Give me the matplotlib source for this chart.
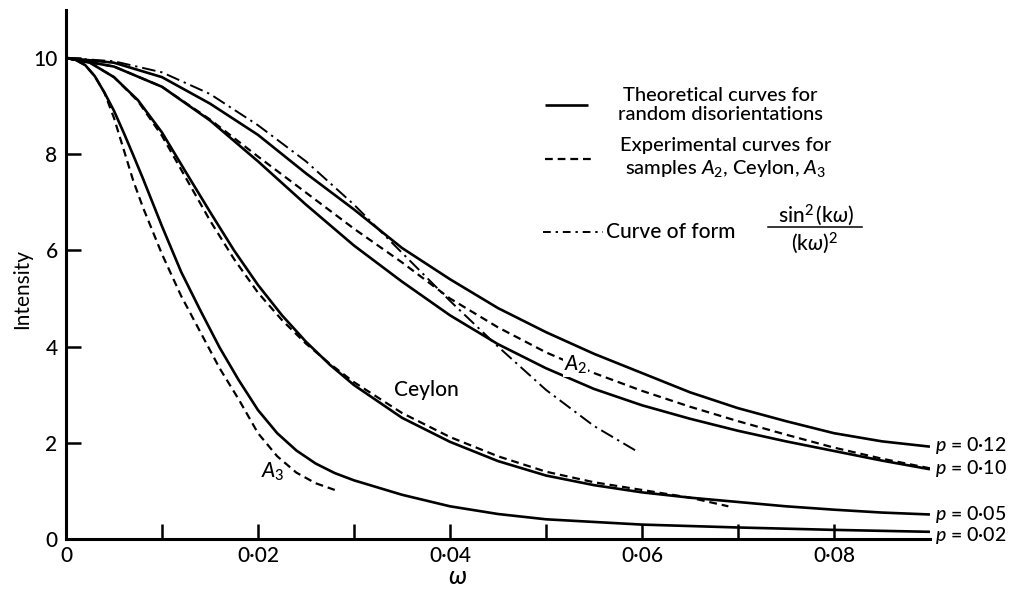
import matplotlib
matplotlib.use("Agg")
import matplotlib.pyplot as plt
from matplotlib.lines import Line2D

plt.rcParams['font.family'] = ['Lato', 'DejaVu Sans']
plt.rcParams['font.weight'] = 'medium'
plt.rcParams['mathtext.fontset'] = 'custom'
plt.rcParams['mathtext.rm'] = 'Lato:medium'
plt.rcParams['mathtext.it'] = 'Lato:italic:medium'
plt.rcParams['mathtext.bf'] = 'Lato:bold'

# theoretical curves (random disorientations)
x_p12 = [0, 0.005, 0.01, 0.015, 0.02, 0.025, 0.03, 0.035, 0.04, 0.045, 0.05,
         0.055, 0.06, 0.065, 0.07, 0.075, 0.08, 0.085, 0.09]
y_p12 = [10, 9.9, 9.6, 9.05, 8.4, 7.6, 6.85, 6.05, 5.4, 4.8, 4.3,
         3.85, 3.45, 3.05, 2.72, 2.45, 2.2, 2.03, 1.92]

x_p10 = [0, 0.005, 0.01, 0.015, 0.02, 0.025, 0.03, 0.035, 0.04, 0.045, 0.05,
         0.055, 0.06, 0.065, 0.07, 0.075, 0.08, 0.085, 0.09]
y_p10 = [10, 9.82, 9.4, 8.7, 7.85, 6.95, 6.1, 5.35, 4.65, 4.05, 3.55,
         3.12, 2.78, 2.5, 2.25, 2.03, 1.83, 1.63, 1.45]

x_p05 = [0, 0.0025, 0.005, 0.0075, 0.01, 0.0125, 0.015, 0.0175, 0.02, 0.0225,
         0.025, 0.0275, 0.03, 0.035, 0.04, 0.045, 0.05, 0.055, 0.06, 0.065,
         0.07, 0.075, 0.08, 0.085, 0.09]
y_p05 = [10, 9.9, 9.6, 9.12, 8.45, 7.62, 6.8, 6.0, 5.28, 4.65,
         4.1, 3.62, 3.2, 2.52, 2.02, 1.62, 1.32, 1.12, 0.97, 0.86,
         0.77, 0.68, 0.61, 0.55, 0.51]

x_p02 = [0, 0.001, 0.002, 0.003, 0.004, 0.005, 0.006, 0.007, 0.008, 0.01,
         0.012, 0.014, 0.016, 0.018, 0.02, 0.022, 0.024, 0.026, 0.028, 0.03,
         0.035, 0.04, 0.045, 0.05, 0.06, 0.07, 0.08, 0.09]
y_p02 = [10, 9.96, 9.85, 9.62, 9.28, 8.9, 8.45, 7.98, 7.5, 6.5,
         5.55, 4.75, 3.98, 3.3, 2.68, 2.2, 1.84, 1.57, 1.37, 1.22,
         0.92, 0.68, 0.52, 0.41, 0.3, 0.24, 0.19, 0.15]

# experimental curves
x_a2 = [0, 0.005, 0.01, 0.015, 0.02, 0.025, 0.03, 0.035, 0.04, 0.045, 0.05,
        0.055, 0.06, 0.065, 0.07, 0.075, 0.08, 0.085, 0.09]
y_a2 = [10, 9.82, 9.4, 8.72, 7.95, 7.2, 6.45, 5.75, 5.0, 4.4, 3.88,
        3.45, 3.08, 2.75, 2.45, 2.17, 1.9, 1.67, 1.47]

x_ceylon = [0, 0.0025, 0.005, 0.0075, 0.01, 0.0125, 0.015, 0.0175, 0.02, 0.0225,
            0.025, 0.0275, 0.03, 0.035, 0.04, 0.045, 0.05, 0.055, 0.06, 0.065,
            0.069]
y_ceylon = [10, 9.9, 9.6, 9.1, 8.38, 7.5, 6.62, 5.82, 5.12, 4.55,
            4.06, 3.64, 3.26, 2.62, 2.12, 1.72, 1.4, 1.18, 1.02, 0.86,
            0.68]

x_a3 = [0, 0.001, 0.002, 0.003, 0.004, 0.005, 0.006, 0.007, 0.008, 0.01,
        0.012, 0.014, 0.016, 0.018, 0.02, 0.022, 0.024, 0.026, 0.028]
y_a3 = [10, 9.96, 9.85, 9.62, 9.28, 8.75, 8.1, 7.45, 6.9, 5.92,
        5.05, 4.3, 3.55, 2.9, 2.2, 1.72, 1.38, 1.16, 1.02]

# sin^2(kw)/(kw)^2 curve
x_sinc = [0, 0.005, 0.01, 0.015, 0.02, 0.025, 0.03, 0.035, 0.04, 0.045, 0.05,
          0.055, 0.0595]
y_sinc = [10, 9.93, 9.7, 9.25, 8.6, 7.85, 6.95, 5.95, 4.95, 4.0, 3.1,
          2.35, 1.82]

p_labels = ['0·12', '0·10', '0·05', '0·02']
p_label_y = [1.94, 1.46, 0.52, 0.08]

fig = plt.figure(figsize=(10.14, 5.9), dpi=100)
ax = fig.add_axes([0.0651, 0.0864, 0.852, 0.897])

solid = dict(color='black', lw=1.9, solid_capstyle='butt')
dashed = dict(color='black', lw=1.6, dashes=(3.5, 2.2))
ax.plot(x_p12, y_p12, **solid)
ax.plot(x_p10, y_p10, **solid)
ax.plot(x_p05, y_p05, **solid)
ax.plot(x_p02, y_p02, **solid)
ax.plot(x_a2, y_a2, **dashed)
ax.plot(x_ceylon, y_ceylon, **dashed)
ax.plot(x_a3, y_a3, **dashed)
ax.plot(x_sinc, y_sinc, color='black', lw=1.4, dashes=(7, 2.5, 1.2, 2.5))

ax.set_xlim(0, 0.09)
ax.set_ylim(0, 11)
for s in ['top', 'right']:
    ax.spines[s].set_visible(False)
for s in ['left', 'bottom']:
    ax.spines[s].set_linewidth(2.2)

ax.set_xticks([0, 0.02, 0.04, 0.06, 0.08])
ax.set_xticklabels(['0', '0·02', '0·04', '0·06', '0·08'])
ax.set_xticks([0.01, 0.03, 0.05, 0.07], minor=True)
ax.set_yticks([0, 2, 4, 6, 8, 10])
ax.set_yticklabels(['0', '2', '4', '6', '8', '10'])
ax.tick_params(axis='both', which='both', direction='in', length=11,
               width=1.8, labelsize=15, color='black')
ax.tick_params(axis='x', pad=5)
ax.tick_params(axis='y', pad=6)

ax.set_ylabel('Intensity', fontsize=15)
ax.yaxis.set_label_coords(-0.039, 0.473)
ax.set_xlabel(r'$\omega$', fontsize=18, va='center')
ax.xaxis.set_label_coords(0.453, -0.07)

# curve labels
ax.text(0.0375, 3.1, 'Ceylon', fontsize=15, ha='center', va='center')
ax.text(0.0531, 3.62, r'$A_2$', fontsize=15, ha='center', va='center',
        bbox=dict(facecolor='white', edgecolor='none', pad=0.5))
ax.text(0.0215, 1.4, r'$A_3$', fontsize=15, ha='center', va='center')
for lab, yy in zip(p_labels, p_label_y):
    ax.text(0.0905, yy, r'$p$ = ' + lab, fontsize=14, ha='left', va='center',
            clip_on=False)

# legend drawn by hand
def fx(px):
    return px / 1014

def fy(py):
    return 1 - py / 590

fig.add_artist(Line2D([fx(545), fx(588)], [fy(105), fy(105)], **solid))
fig.text(fx(720), fy(105), 'Theoretical curves for\nrandom disorientations',
         fontsize=14.5, ha='center', va='center', multialignment='center',
         linespacing=1.2)
fig.add_artist(Line2D([fx(545), fx(595)], [fy(159), fy(159)], **dashed))
fig.text(fx(726), fy(158), 'Experimental curves for\nsamples $A_2$, Ceylon, $A_3$',
         fontsize=14.5, ha='center', va='center', multialignment='center',
         linespacing=1.25)
fig.add_artist(Line2D([fx(543), fx(603)], [fy(232), fy(232)], color='black',
                      lw=1.4, dashes=(4, 2.5, 1.2, 2.5)))
fig.text(fx(606), fy(232), 'Curve of form', fontsize=15, ha='left', va='center')
fig.text(fx(816), fy(215), r'$\mathrm{sin}^{2}\,(\mathrm{k}\omega)$', fontsize=15,
         ha='center', va='center')
fig.add_artist(Line2D([fx(768), fx(862)], [fy(227), fy(227)], color='black', lw=1.1))
fig.text(fx(814), fy(243), r'$(\mathrm{k}\omega)^{2}$', fontsize=15,
         ha='center', va='center')

fig.savefig('out.png', dpi=100)
